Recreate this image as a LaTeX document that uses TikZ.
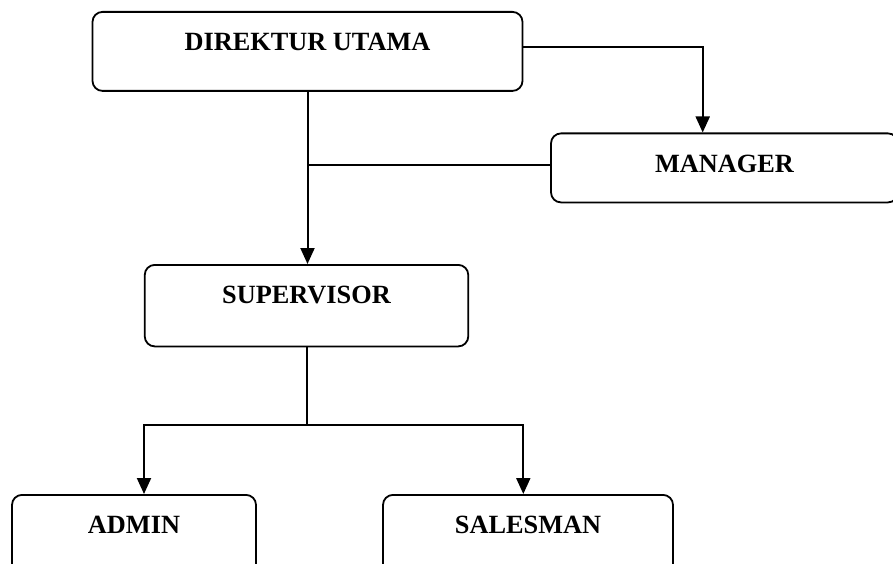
\documentclass[tikz,border=0pt]{standalone}
\usepackage{fontspec}
\setmainfont{Liberation Serif}
\usetikzlibrary{arrows.meta}
\begin{document}
\begin{tikzpicture}[x=1pt,y=-1pt,
  orgbox/.style={draw, line width=1.8pt, rounded corners=10pt, inner sep=0pt,
    anchor=north, text height=39pt,
    font=\bfseries\fontsize{26.3pt}{30pt}\selectfont},
  conn/.style={line width=2pt},
  arr/.style={conn, -{Triangle[length=16pt,width=14pt]}}]
\useasboundingbox (0,0) rectangle (893,564);
\clip (0,0) rectangle (893,564);
\node[orgbox, minimum width=430pt, text depth=40pt] (DIR) at (307.5,11) {DIREKTUR UTAMA};
\node[orgbox, minimum width=347pt, text depth=30pt] (MAN) at (724.5,132.5) {MANAGER};
\node[orgbox, minimum width=323.5pt, text depth=42.5pt] (SUP) at (306.5,264) {SUPERVISOR};
\node[orgbox, minimum width=244pt, text depth=41pt] (ADM) at (134,494) {ADMIN};
\node[orgbox, minimum width=290pt, text depth=41pt] (SAL) at (528,494) {SALESMAN};
% Direktur -> Manager
\draw[arr] ([yshift=4.8pt]DIR.east) -| ([xshift=-21.8pt]MAN.north);
% Direktur -> Supervisor
\draw[arr] (DIR.south) -- (SUP.north -| DIR.south);
% Manager -> line
\coordinate (m1) at ([yshift=2.7pt]MAN.west);
\coordinate (j1) at (DIR.south |- m1);
\draw[conn] (m1) -- (j1);
% Supervisor -> Admin, Salesman
\coordinate (j2) at ([yshift=-78pt]SUP.south);
\draw[conn] (SUP.south) -- (j2);
\draw[arr] (j2) -| ([xshift=10pt]ADM.north);
\draw[arr] (j2) -| ([xshift=-4.7pt]SAL.north);
\end{tikzpicture}
\end{document}
